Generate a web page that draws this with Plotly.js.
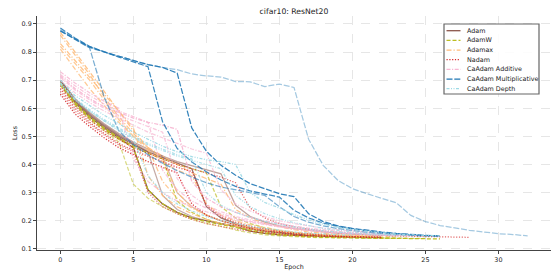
<!DOCTYPE html>
<html><head><meta charset="utf-8">
<script src="https://cdn.plot.ly/plotly-3.0.1.min.js"></script>
<style>html,body{margin:0;padding:0;background:#fff}#chart{width:553px;height:271px}</style>
</head><body><div id="chart"></div>
<script>
// ---- data (loss per epoch, epoch = index) ----
const optimizers = ["Adam","AdamW","Adamax","Nadam","CaAdam Additive","CaAdam Multiplicative","CaAdam Depth"];

const adamRuns = [
  [0.69,0.62,0.57,0.53,0.495,0.46,0.31,0.26,0.23,0.21,0.20,0.19,0.18,0.163,0.155,0.15,0.148,0.146,0.144,0.142,0.141,0.14],
  [0.695,0.625,0.575,0.535,0.50,0.47,0.445,0.425,0.405,0.385,0.25,0.21,0.19,0.175,0.165,0.158,0.153,0.15,0.147,0.145,0.143,0.142,0.141],
  [0.70,0.63,0.58,0.54,0.505,0.475,0.445,0.29,0.24,0.215,0.20,0.19,0.18,0.17,0.162,0.156,0.152,0.149,0.147,0.145,0.144,0.143],
  [0.70,0.635,0.585,0.545,0.51,0.48,0.455,0.43,0.41,0.395,0.38,0.367,0.255,0.215,0.195,0.182,0.172,0.165,0.16,0.155,0.152,0.15,0.148,0.147],
  [0.70,0.63,0.58,0.54,0.505,0.475,0.45,0.43,0.30,0.25,0.22,0.20,0.185,0.175,0.165,0.158,0.153,0.15,0.148,0.146,0.145]
];
const adamwRuns = [
  [0.68,0.61,0.56,0.52,0.48,0.33,0.28,0.25,0.225,0.205,0.19,0.18,0.167,0.157,0.15,0.146,0.143,0.141,0.14,0.139,0.138,0.138,0.137,0.137],
  [0.685,0.615,0.565,0.525,0.49,0.46,0.31,0.26,0.23,0.21,0.197,0.187,0.177,0.165,0.155,0.15,0.146,0.143,0.141,0.14,0.139,0.138,0.137,0.137,0.136,0.136,0.136],
  [0.69,0.62,0.57,0.53,0.495,0.465,0.44,0.42,0.27,0.23,0.205,0.19,0.178,0.168,0.16,0.153,0.148,0.145,0.143,0.141,0.14,0.139,0.138,0.138],
  [0.69,0.62,0.57,0.53,0.495,0.465,0.44,0.42,0.40,0.385,0.37,0.25,0.21,0.19,0.175,0.165,0.157,0.151,0.147,0.144,0.142,0.14,0.139,0.138,0.138,0.137]
];
const adamaxRuns = [
  [0.87,0.80,0.73,0.66,0.59,0.52,0.46,0.42,0.30,0.25,0.22,0.20,0.185,0.175,0.168,0.162,0.157,0.153,0.15,0.148,0.146,0.145],
  [0.83,0.77,0.71,0.65,0.59,0.53,0.36,0.29,0.25,0.225,0.205,0.19,0.18,0.172,0.165,0.16,0.155,0.151,0.148,0.146,0.145],
  [0.82,0.76,0.70,0.63,0.56,0.50,0.45,0.41,0.38,0.36,0.26,0.22,0.20,0.185,0.175,0.167,0.16,0.155,0.151,0.148,0.146,0.145,0.144],
  [0.81,0.74,0.67,0.61,0.55,0.50,0.46,0.34,0.28,0.245,0.22,0.20,0.188,0.178,0.17,0.163,0.157,0.152,0.149,0.147,0.145,0.144],
  [0.86,0.79,0.72,0.64,0.57,0.51,0.46,0.43,0.40,0.37,0.35,0.33,0.24,0.21,0.19,0.178,0.168,0.16,0.155,0.151,0.148,0.146,0.145,0.144]
];
const nadamRuns = [
  [0.65,0.58,0.535,0.495,0.46,0.435,0.41,0.39,0.37,0.26,0.22,0.20,0.185,0.172,0.163,0.156,0.151,0.147,0.145,0.143,0.142,0.141,0.14],
  [0.67,0.60,0.55,0.51,0.475,0.45,0.43,0.41,0.39,0.375,0.255,0.215,0.195,0.18,0.17,0.162,0.156,0.152,0.149,0.146,0.144,0.143,0.142],
  [0.68,0.61,0.56,0.52,0.49,0.46,0.44,0.42,0.40,0.385,0.37,0.355,0.335,0.245,0.21,0.19,0.178,0.17,0.163,0.158,0.154,0.151,0.148,0.146,0.145,0.144,0.143,0.142,0.141],
  [0.66,0.59,0.545,0.505,0.47,0.445,0.30,0.25,0.225,0.205,0.19,0.18,0.17,0.163,0.157,0.152,0.148,0.146,0.144,0.142,0.141]
];
const additiveRuns = [
  [0.73,0.69,0.655,0.625,0.60,0.42,0.34,0.30,0.27,0.25,0.232,0.218,0.205,0.195,0.186,0.178,0.171,0.165,0.16,0.156,0.153,0.15,0.148,0.147],
  [0.72,0.68,0.645,0.615,0.59,0.57,0.55,0.38,0.31,0.27,0.245,0.225,0.21,0.198,0.188,0.18,0.172,0.166,0.161,0.157,0.154,0.151,0.149,0.147,0.146],
  [0.715,0.67,0.635,0.605,0.585,0.565,0.55,0.54,0.525,0.34,0.28,0.25,0.23,0.212,0.20,0.19,0.181,0.173,0.167,0.162,0.158,0.155,0.152,0.15,0.148,0.147],
  [0.71,0.665,0.63,0.60,0.575,0.555,0.535,0.515,0.35,0.29,0.255,0.232,0.215,0.202,0.191,0.182,0.174,0.168,0.163,0.158,0.155,0.152,0.15,0.148],
  [0.70,0.655,0.62,0.59,0.565,0.54,0.515,0.495,0.475,0.455,0.44,0.31,0.26,0.235,0.215,0.20,0.19,0.181,0.174,0.168,0.163,0.159,0.155,0.152,0.15,0.148]
];
const multiplicativeRuns = [
  [0.88,0.845,0.815,0.80,0.785,0.77,0.755,0.745,0.737,0.722,0.715,0.711,0.695,0.694,0.677,0.686,0.674,0.49,0.397,0.344,0.314,0.296,0.279,0.264,0.219,0.197,0.183,0.174,0.166,0.16,0.154,0.151,0.146],
  [0.875,0.845,0.818,0.80,0.785,0.77,0.755,0.745,0.725,0.53,0.447,0.397,0.362,0.332,0.314,0.296,0.286,0.225,0.197,0.182,0.173,0.166,0.16,0.155,0.151,0.148,0.146],
  [0.885,0.85,0.82,0.80,0.782,0.765,0.748,0.552,0.457,0.409,0.374,0.345,0.322,0.306,0.295,0.284,0.237,0.21,0.192,0.18,0.171,0.164,0.158,0.154,0.15,0.147,0.145],
  [0.875,0.845,0.815,0.64,0.52,0.47,0.435,0.405,0.378,0.355,0.335,0.32,0.31,0.30,0.29,0.25,0.215,0.195,0.182,0.172,0.165,0.159,0.155,0.151,0.148,0.146]
];
const depthRuns = [
  [0.70,0.645,0.61,0.575,0.545,0.515,0.49,0.465,0.445,0.428,0.417,0.41,0.40,0.30,0.265,0.245,0.222,0.203,0.188,0.177,0.169,0.162,0.157,0.153,0.15,0.148,0.147],
  [0.69,0.63,0.59,0.555,0.52,0.49,0.36,0.30,0.26,0.235,0.215,0.20,0.19,0.181,0.173,0.166,0.16,0.156,0.152,0.15,0.148],
  [0.69,0.635,0.595,0.56,0.53,0.50,0.475,0.455,0.435,0.42,0.30,0.255,0.23,0.212,0.198,0.187,0.178,0.17,0.164,0.159,0.155,0.152,0.15,0.148],
  [0.685,0.63,0.59,0.555,0.525,0.495,0.47,0.45,0.43,0.415,0.40,0.385,0.29,0.25,0.225,0.207,0.193,0.182,0.173,0.166,0.16,0.156,0.152,0.15,0.148]
];

const xTicks = [0,5,10,15,20,25,30];
const yTicks = [0.1,0.2,0.3,0.4,0.5,0.6,0.7,0.8,0.9];

// ---- styles ----
const groups = [adamRuns, adamwRuns, adamaxRuns, nadamRuns, additiveRuns, multiplicativeRuns, depthRuns];
const colors = ["#8c564b","#bcbd22","#ffbb78","#d62728","#f7b6d2","#1f77b4","#9edae5"];
const dashes = ["solid","4px,2px","5px,2px,1.2px,2px","1.2px,1.6px","4px,1.5px,1.2px,1.5px","6px,1.8px","3px,1.5px,1px,1.5px,1px,1.5px"];
const opac = [
  [1,0.85,0.5,0.55,0.4],
  [0.55,1,0.8,0.7],
  [0.9,0.85,0.8,0.8,0.85],
  [0.9,0.8,0.7,0.6],
  [0.85,0.8,0.95,0.75,0.7],
  [0.4,0.9,0.85,0.6],
  [0.95,0.85,0.8,0.8]
];

const traces = [];
groups.forEach((runs, g) => {
  runs.forEach((ys, r) => {
    traces.push({
      type: "scatter", mode: "lines",
      x: ys.map((_, i) => i), y: ys,
      name: optimizers[g], legendgroup: optimizers[g], showlegend: false,
      opacity: opac[g][r],
      line: {color: colors[g], width: 1.25, dash: dashes[g]},
      hoverinfo: "skip"
    });
  });
});

// custom compact legend (matplotlib-like)
const W = 553, H = 271, ml = 37, mr = 2, mt = 16, mb = 21;
const pw = W - ml - mr, ph = H - mt - mb;
const px = v => (v - ml) / pw;
const py = v => (H - mb - v) / ph;
const shapes = [{
  type: "rect", xref: "paper", yref: "paper",
  x0: px(444), x1: px(539), y0: py(94), y1: py(24),
  line: {color: "#666", width: 1.2}, fillcolor: "rgba(255,255,255,0.85)"
}];
const annotations = [];
optimizers.forEach((name, i) => {
  const yy = 30.7 + 9.67 * i;
  shapes.push({type: "line", xref: "paper", yref: "paper",
    x0: px(446.5), x1: px(460.5), y0: py(yy), y1: py(yy),
    line: {color: colors[i], width: 1.3, dash: dashes[i]}});
  annotations.push({xref: "paper", yref: "paper", x: px(464.5), y: py(yy),
    xanchor: "left", yanchor: "middle", showarrow: false, text: name,
    font: {size: 6.4, color: "#222"}});
});

const axisCommon = {
  showline: true, linecolor: "#444", linewidth: 1,
  ticks: "outside", ticklen: 3, tickcolor: "#444", tickwidth: 1,
  showgrid: true, gridcolor: "#e0e0e0", gridwidth: 0.8, griddash: "dash",
  zeroline: false, tickfont: {size: 6.4, color: "#222"}
};

const layout = {
  width: W, height: H,
  margin: {l: ml, r: mr, t: mt, b: mb, pad: 0},
  paper_bgcolor: "#fff", plot_bgcolor: "#fff",
  font: {family: "DejaVu Sans, sans-serif", color: "#222"},
  title: {text: "cifar10: ResNet20", x: 0.5, xref: "paper", xanchor: "center",
          y: 1 - 11 / H, yref: "container", yanchor: "middle", font: {size: 7.7, color: "#222"}},
  xaxis: Object.assign({}, axisCommon, {range: [-1.6, 33.6], tickvals: xTicks,
          title: {text: "Epoch", standoff: 3, font: {size: 6.4, color: "#222"}}}),
  yaxis: Object.assign({}, axisCommon, {range: [0.096, 0.928], tickvals: yTicks, tickformat: ".1f",
          title: {text: "Loss", standoff: 3, font: {size: 6.4, color: "#222"}}}),
  showlegend: false,
  shapes: shapes, annotations: annotations
};

Plotly.newPlot("chart", traces, layout, {staticPlot: true, displayModeBar: false});
</script>
</body></html>
